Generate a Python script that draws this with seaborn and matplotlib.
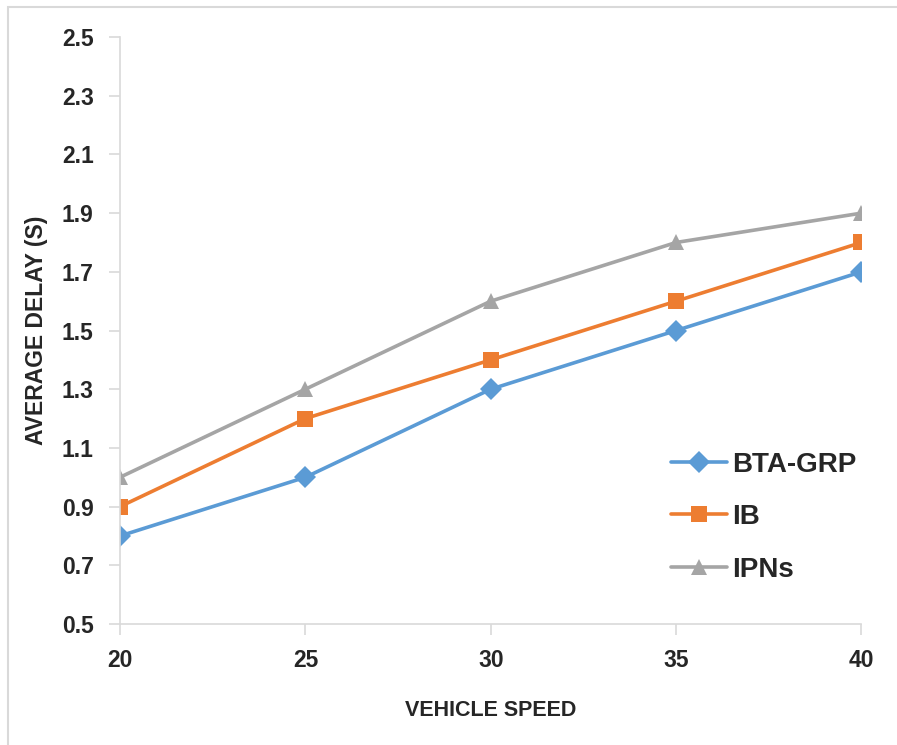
import pandas as pd
import matplotlib.pyplot as plt
import seaborn as sns
from matplotlib.patches import Rectangle

speed = [20, 25, 30, 35, 40]
bta_grp = [0.8, 1.0, 1.3, 1.5, 1.7]
ib = [0.9, 1.2, 1.4, 1.6, 1.8]
ipns = [1.0, 1.3, 1.6, 1.8, 1.9]
series_names = ["BTA-GRP", "IB", "IPNs"]
y_ticks = [0.5, 0.7, 0.9, 1.1, 1.3, 1.5, 1.7, 1.9, 2.1, 2.3, 2.5]

df = pd.DataFrame({
    "speed": speed * 3,
    "delay": bta_grp + ib + ipns,
    "method": [n for n in series_names for _ in speed],
})

sns.set_style("white")
plt.rcParams["font.family"] = ["Liberation Sans", "DejaVu Sans"]

fig = plt.figure(figsize=(8.97, 7.45), dpi=100)
ax = fig.add_axes([0.1338, 0.1624, 0.8266, 0.7879])
fig.patches.append(Rectangle((0.009, -0.01), 1.0, 1.0, transform=fig.transFigure,
                             fill=False, edgecolor="#d9d9d9", linewidth=1.5))

palette = {"BTA-GRP": "#5b9bd5", "IB": "#ed7d31", "IPNs": "#a5a5a5"}
markers = {"BTA-GRP": "D", "IB": "s", "IPNs": "^"}
sns.lineplot(data=df, x="speed", y="delay", hue="method", style="method",
             markers=markers, dashes=False, palette=palette, linewidth=2.6,
             markersize=11, markeredgewidth=0, ax=ax)

ax.set_xlim(20, 40)
ax.set_ylim(0.5, 2.5)
ax.set_xticks(speed)
ax.set_xticklabels([str(s) for s in speed], fontsize=16.5, fontweight="bold")
ax.set_yticks(y_ticks)
ax.set_yticklabels([f"{v:.1f}" for v in y_ticks], fontsize=16.5, fontweight="bold")
ax.tick_params(axis="both", left=True, bottom=True, length=8, width=1.2,
               color="#d9d9d9", direction="out")
ax.tick_params(axis="y", pad=11)
ax.tick_params(axis="x", pad=10)
for side in ["top", "right"]:
    ax.spines[side].set_visible(False)
for side in ["left", "bottom"]:
    ax.spines[side].set_color("#d9d9d9")
    ax.spines[side].set_linewidth(1.2)

ax.set_xlabel("VEHICLE SPEED", fontsize=15.5, fontweight="bold", labelpad=20)
ax.set_ylabel("AVERAGE DELAY (S)", fontsize=16.5, fontweight="bold", labelpad=10)

leg = ax.legend(loc="center left", bbox_to_anchor=(0.71, 0.182), frameon=False,
                prop={"size": 20, "weight": "bold"}, handlelength=2.0,
                labelspacing=0.95, handletextpad=0.2, markerscale=1.05)

fig.savefig("out.png", dpi=100)
